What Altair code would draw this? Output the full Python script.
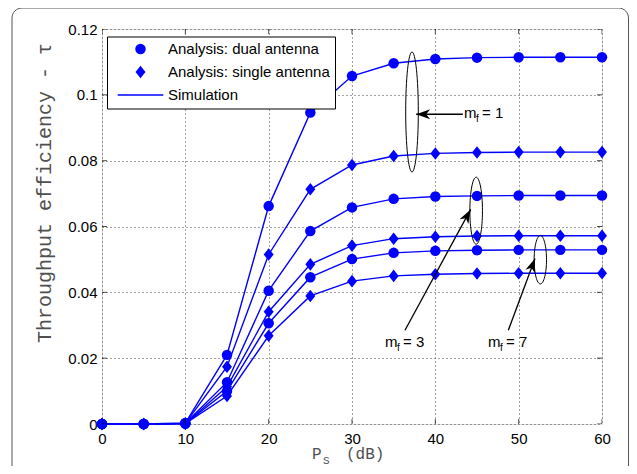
import altair as alt
import pandas as pd

# ---------------- data ----------------
x_db = [0, 5, 10, 15, 20, 25, 30, 35, 40, 45, 50, 55, 60]
dual_mf1 = [0, 0, 0.0003, 0.0210, 0.0662, 0.0946, 0.1057, 0.1096, 0.1109, 0.1113, 0.1114, 0.1114, 0.1114]
single_mf1 = [0, 0, 0.0002, 0.0174, 0.0515, 0.0713, 0.0787, 0.0814, 0.0822, 0.0825, 0.0826, 0.0826, 0.0826]
dual_mf3 = [0, 0, 0.0002, 0.0127, 0.0405, 0.0586, 0.0658, 0.0684, 0.0691, 0.0693, 0.0694, 0.0694, 0.0694]
single_mf3 = [0, 0, 0.0001, 0.0113, 0.0341, 0.0485, 0.0542, 0.0563, 0.0569, 0.0571, 0.0572, 0.0572, 0.0572]
dual_mf7 = [0, 0, 0.0001, 0.0100, 0.0306, 0.0446, 0.0501, 0.0520, 0.0526, 0.0528, 0.0529, 0.0529, 0.0529]
single_mf7 = [0, 0, 0.0001, 0.0085, 0.0268, 0.0389, 0.0434, 0.0450, 0.0455, 0.0457, 0.0458, 0.0458, 0.0458]

legend_labels = ["Analysis: dual antenna", "Analysis: single antenna", "Simulation"]
x_ticks = [0, 10, 20, 30, 40, 50, 60]
y_ticks = [0, 0.02, 0.04, 0.06, 0.08, 0.1, 0.12]

# annotations (data coordinates)
ell_x = [37.2, 44.9, 52.6]
ell_y = [0.0948, 0.0648, 0.0499]
arrow_x0 = [43.3, 36.36, 48.76]
arrow_y0 = [0.0941, 0.0285, 0.0285]
arrow_x1 = [37.7, 44.24, 51.96]
arrow_y1 = [0.0941, 0.0652, 0.0503]
arrow_angle = [0, 118.6, 110.4]
ann_x = [43.44, 33.96, 46.32]
ann_y = [0.0944, 0.0250, 0.0250]
ann_rest = ["= 1", "= 3", "= 7"]

BLUE = "#0000ff"
SANS = "Liberation Sans"
MONO = "Liberation Mono"
DIAMOND = "M0,-1.2 L0.95,0 L0,1.2 L-0.95,0 Z"
LINE_SYM = "M-4.35,-0.13 H4.35 V0.13 H-4.35 Z"

series = [
    ("dual_mf1", legend_labels[0], dual_mf1),
    ("single_mf1", legend_labels[1], single_mf1),
    ("dual_mf3", legend_labels[0], dual_mf3),
    ("single_mf3", legend_labels[1], single_mf3),
    ("dual_mf7", legend_labels[0], dual_mf7),
    ("single_mf7", legend_labels[1], single_mf7),
]
rows = []
for name, typ, vals in series:
    for xv, yv in zip(x_db, vals):
        rows.append({"x": xv, "y": yv, "series": name, "type": typ})
df = pd.DataFrame(rows)

xscale = alt.Scale(domain=[0, 60], nice=False, zero=False)
yscale = alt.Scale(domain=[0, 0.12], nice=False)

xaxis = alt.Axis(values=x_ticks, title=None, grid=True, gridDash=[1, 3], gridColor="#444",
                 gridWidth=1, tickSize=0, domain=False, labelFont=SANS, labelFontSize=15,
                 labelColor="black", labelPadding=7, labelFlush=False)
yaxis = alt.Axis(values=y_ticks, title=None, grid=True, gridDash=[1, 3], gridColor="#444",
                 gridWidth=1, tickSize=0, domain=False, labelFont=SANS, labelFontSize=15,
                 labelColor="black", labelPadding=5, format=".2~f", labelFlush=False)

base = alt.Chart(df)
lines = base.mark_line(color=BLUE, strokeWidth=1.4).encode(
    x=alt.X("x:Q", scale=xscale, axis=xaxis),
    y=alt.Y("y:Q", scale=yscale, axis=yaxis),
    detail="series:N",
)
points = base.mark_point(filled=True, opacity=1, color=BLUE, size=110).encode(
    x="x:Q",
    y="y:Q",
    shape=alt.Shape(
        "type:N",
        scale=alt.Scale(domain=legend_labels, range=["circle", DIAMOND, LINE_SYM]),
        legend=alt.Legend(
            title=None, orient="none", legendX=5, legendY=7.5, padding=5,
            fillColor="white", strokeColor="black", labelFont=SANS, labelFontSize=15,
            labelColor="black", rowPadding=7, symbolSize=110, symbolOffset=21,
            labelOffset=20, symbolFillColor=BLUE, symbolStrokeColor=BLUE,
            symbolStrokeWidth=0, labelLimit=400,
        ),
    ),
)

# inward ticks on all four sides
xt = pd.DataFrame({"x": x_ticks})
yt = pd.DataFrame({"y": y_ticks})
tick_style = dict(clip=True, size=10, thickness=1, color="black")
t_bottom = alt.Chart(xt).mark_tick(orient="vertical", **tick_style).encode(x="x:Q", y=alt.datum(0))
t_top = alt.Chart(xt).mark_tick(orient="vertical", **tick_style).encode(x="x:Q", y=alt.datum(0.12))
t_left = alt.Chart(yt).mark_tick(orient="horizontal", **tick_style).encode(y="y:Q", x=alt.datum(0))
t_right = alt.Chart(yt).mark_tick(orient="horizontal", **tick_style).encode(y="y:Q", x=alt.datum(60))

# ellipses (custom symbol paths)
def ell_path(rx):
    k = 0.5523
    return (f"M0,-1 C{k*rx:.4f},-1 {rx:.4f},{-k:.4f} {rx:.4f},0 "
            f"C{rx:.4f},{k:.4f} {k*rx:.4f},1 0,1 "
            f"C{-k*rx:.4f},1 {-rx:.4f},{k:.4f} {-rx:.4f},0 "
            f"C{-rx:.4f},{-k:.4f} {-k*rx:.4f},-1 0,-1 Z")

ell_rx = [0.105, 0.188, 0.256]
ell_size = [14400, 4489, 2343]
ellipses = []
for i in range(3):
    d = pd.DataFrame({"x": [ell_x[i]], "y": [ell_y[i]]})
    ellipses.append(
        alt.Chart(d).mark_point(shape=ell_path(ell_rx[i]), size=ell_size[i], filled=False,
                                color="black", strokeWidth=1, opacity=1).encode(x="x:Q", y="y:Q")
    )

arr = pd.DataFrame({"x0": arrow_x0, "y0": arrow_y0, "x1": arrow_x1, "y1": arrow_y1,
                    "ang": arrow_angle})
shafts = alt.Chart(arr).mark_rule(color="black", strokeWidth=1.3).encode(
    x="x0:Q", y="y0:Q", x2="x1:Q", y2="y1:Q")
heads = alt.Chart(arr).mark_point(shape="M0,0 L2.8,-1 L2.0,0 L2.8,1 Z", size=100, filled=True,
                                  color="black", opacity=1).encode(
    x="x1:Q", y="y1:Q", angle=alt.Angle("ang:Q", scale=None))

ann = pd.DataFrame({"x": ann_x, "y": ann_y, "rest": ann_rest, "m": ["m"] * 3, "f": ["f"] * 3})
t_m = alt.Chart(ann).mark_text(align="left", baseline="middle", font=SANS, fontSize=15,
                               color="black").encode(x="x:Q", y="y:Q", text="m:N")
t_f = alt.Chart(ann).mark_text(align="left", baseline="middle", font=SANS, fontSize=10,
                               color="black", dx=12, dy=6).encode(x="x:Q", y="y:Q", text="f:N")
t_rest = alt.Chart(ann).mark_text(align="left", baseline="middle", font=SANS, fontSize=15,
                                  color="black", dx=18).encode(x="x:Q", y="y:Q", text="rest:N")

# axis titles (with subscript) and figure frame
one = pd.DataFrame({"a": [1]})
TITLE_C = "#505050"
ytitle = alt.Chart(one).mark_text(font=MONO, fontSize=20, angle=270, align="center",
                                  baseline="middle", color=TITLE_C).encode(
    x=alt.value(-57), y=alt.value(164), text=alt.value("Throughput efficiency - τ"))
xt_p = alt.Chart(one).mark_text(font=MONO, fontSize=16, align="left", baseline="middle",
                                color=TITLE_C).encode(
    x=alt.value(210), y=alt.value(425), text=alt.value("P"))
xt_s = alt.Chart(one).mark_text(font=MONO, fontSize=11, align="left", baseline="middle",
                                color=TITLE_C).encode(
    x=alt.value(221), y=alt.value(432), text=alt.value("S"))
xt_db = alt.Chart(one).mark_text(font=MONO, fontSize=16, align="left", baseline="middle",
                                 color=TITLE_C).encode(
    x=alt.value(244), y=alt.value(425), text=alt.value("(dB)"))
frame = alt.Chart(one).mark_rect(fill=None, stroke="#555", strokeWidth=1, cornerRadius=10).encode(
    x=alt.value(-90), x2=alt.value(526.5), y=alt.value(-21), y2=alt.value(470))

chart = alt.layer(
    frame, lines, points, t_bottom, t_top, t_left, t_right,
    *ellipses, shafts, heads, t_m, t_f, t_rest, ytitle, xt_p, xt_s, xt_db,
).properties(
    width=500, height=395,
    padding={"left": 94, "top": 21, "right": 27, "bottom": 42},
    autosize=alt.AutoSizeParams(type="none"),
).configure_view(
    stroke="black", strokeWidth=1
).configure(background="white")

chart.save("out.html", embed_options={"renderer": "svg", "actions": False})
